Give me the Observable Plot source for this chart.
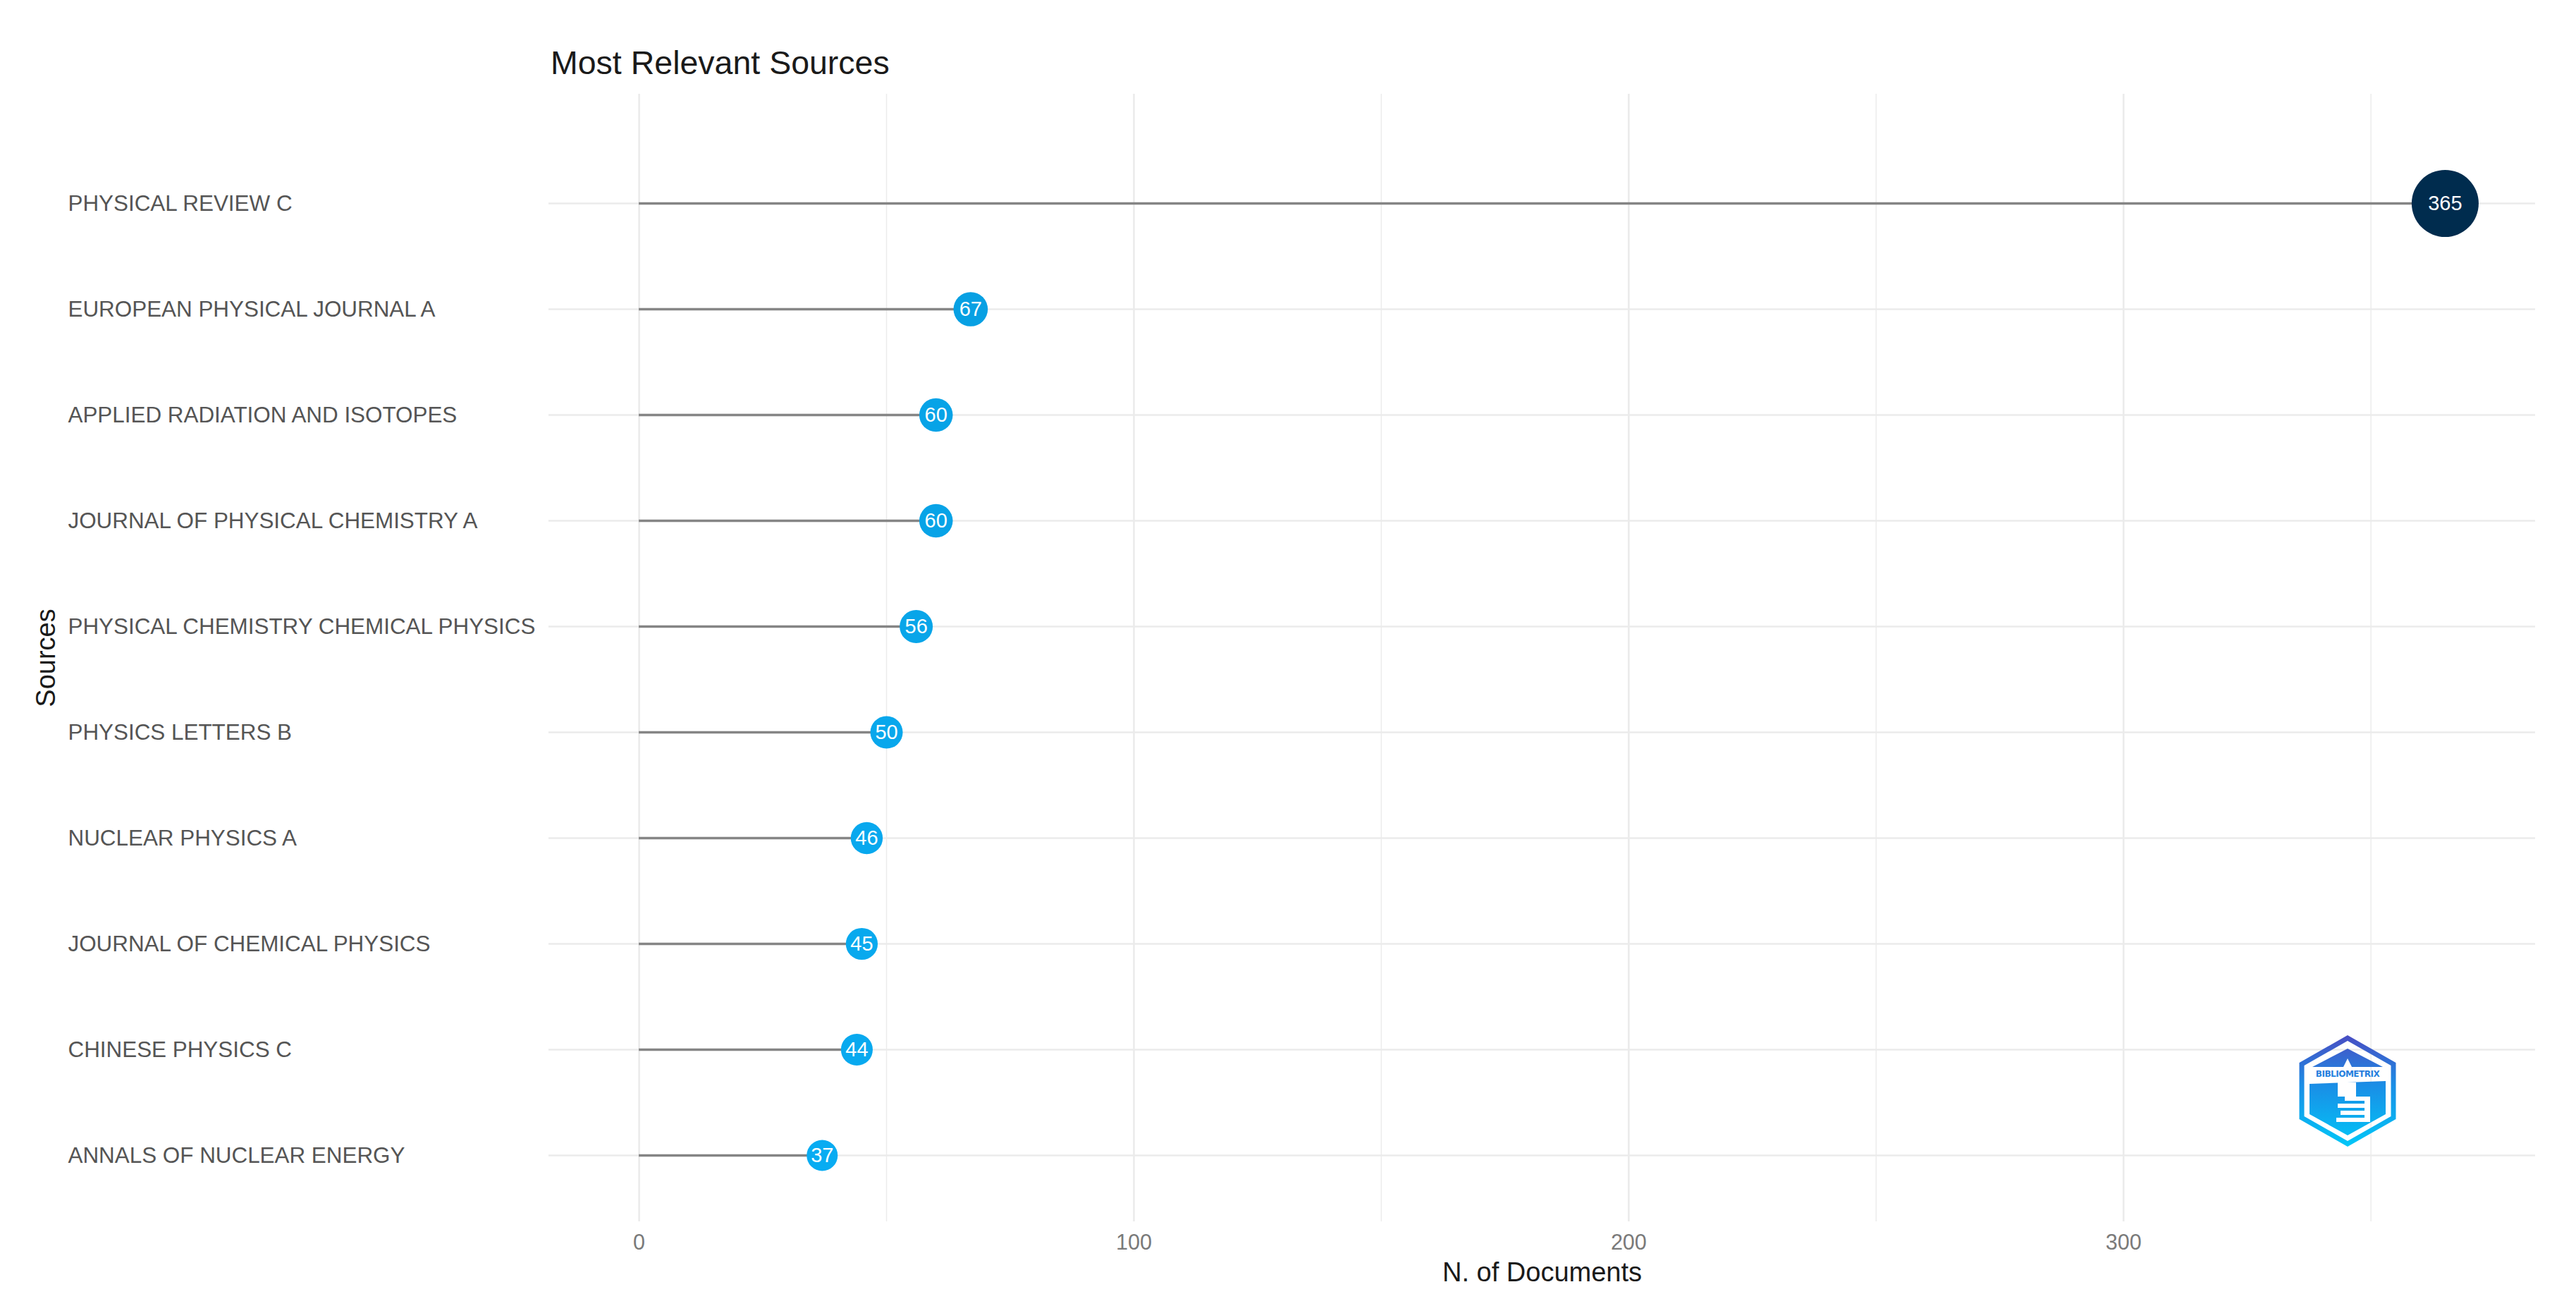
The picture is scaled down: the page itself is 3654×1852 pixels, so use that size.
<!DOCTYPE html>
<html>
<head>
<meta charset="utf-8">
<script src="https://cdn.jsdelivr.net/npm/d3@7"></script>
<script src="https://cdn.jsdelivr.net/npm/@observablehq/plot@0.6"></script>
<style>
  html, body { margin: 0; padding: 0; background: #ffffff; }
  body { width: 3654px; height: 1852px; position: relative; overflow: hidden;
         font-family: "Liberation Sans", Arial, Helvetica, sans-serif; }
  #title { position: relative; height: 133px; }
  #title span { position: absolute; left: 781px; top: 66px; font-size: 46.5px; line-height: 46px; color: #1a1a1a; white-space: nowrap; }
  #logo { position: absolute; left: 3260px; top: 1467px; width: 140px; height: 160px; }
</style>
</head>
<body>
<div id="title"><span>Most Relevant Sources</span></div>
<div id="chart"></div>
<svg id="logo" viewBox="0 0 140 160" xmlns="http://www.w3.org/2000/svg">
  <defs>
    <linearGradient id="lg" gradientUnits="userSpaceOnUse" x1="0" y1="0" x2="0" y2="160">
      <stop offset="0" stop-color="#4a4cc2"/>
      <stop offset="0.45" stop-color="#1a8ee6"/>
      <stop offset="1" stop-color="#00c8f8"/>
    </linearGradient>
  </defs>
  <polygon points="70,5 135,42 135,118 70,155 5,118 5,42" fill="none" stroke="url(#lg)" stroke-width="7"/>
  <polygon points="70,20 120,46 20,46" fill="url(#lg)"/>
  <text x="70" y="60" text-anchor="middle" font-size="12" font-weight="bold" font-family="DejaVu Sans, sans-serif" fill="url(#lg)" letter-spacing="-0.5">BIBLIOMETRIX</text>
  <polygon points="16,70 124,66 124,113 70,143 16,113" fill="url(#lg)"/>
  <path d="M64,46 L70,34 L76,46 Z" fill="#ffffff"/>
  <rect x="56" y="68" width="26" height="20" fill="#ffffff"/>
  <rect x="66" y="88" width="36" height="6" fill="#ffffff"/>
  <rect x="56" y="98" width="44" height="6" fill="#ffffff"/>
  <rect x="60" y="108" width="40" height="6" fill="#ffffff"/>
  <rect x="54" y="118" width="44" height="6" fill="#ffffff"/>
  <rect x="94" y="88" width="8" height="36" fill="#ffffff"/>
</svg>
<script>
// ---- data ----
const sources = [
  "PHYSICAL REVIEW C",
  "EUROPEAN PHYSICAL JOURNAL A",
  "APPLIED RADIATION AND ISOTOPES",
  "JOURNAL OF PHYSICAL CHEMISTRY A",
  "PHYSICAL CHEMISTRY CHEMICAL PHYSICS",
  "PHYSICS LETTERS B",
  "NUCLEAR PHYSICS A",
  "JOURNAL OF CHEMICAL PHYSICS",
  "CHINESE PHYSICS C",
  "ANNALS OF NUCLEAR ENERGY"
];
const documents = [365, 67, 60, 60, 56, 50, 46, 45, 44, 37];
const xMajorTicks = [0, 100, 200, 300];
const xMinorTicks = [50, 150, 250, 350];
const chartTitle = "Most Relevant Sources";
const xTitle = "N. of Documents";
const yTitle = "Sources";

const data = sources.map((s, i) => ({source: s, value: documents[i]}));
const vMin = d3.min(documents), vMax = d3.max(documents);
const pad = (vMax - 0) * 0.05;

const FONT = '"Liberation Sans", Arial, Helvetica, sans-serif';
const W = 3654, H = 1852 - 133;

const chart = Plot.plot({
  width: W,
  height: H,
  marginTop: 0,
  marginBottom: 120,
  marginLeft: 778,
  marginRight: 58,
  insetTop: 151,
  insetBottom: 91,
  style: {fontFamily: FONT, background: "#ffffff", overflow: "visible"},
  x: {domain: [0 - pad, vMax + pad], axis: null},
  y: {type: "point", domain: sources, padding: 0, axis: null},
  r: {type: "linear", domain: [vMin, vMax], range: [22, 47.5]},
  color: {type: "linear", domain: [vMin, vMax], range: ["#08acf2", "#002c4e"], interpolate: "rgb"},
  marks: [
    Plot.gridX(xMinorTicks, {stroke: "#ececec", strokeOpacity: 1, strokeWidth: 1.5}),
    Plot.gridX(xMajorTicks, {stroke: "#ebebeb", strokeOpacity: 1, strokeWidth: 2.6}),
    Plot.gridY(sources, {stroke: "#ebebeb", strokeOpacity: 1, strokeWidth: 2.6}),
    Plot.ruleY(data, {y: "source", x: "value", stroke: "#858585", strokeWidth: 3.6}),
    Plot.dot(data, {x: "value", y: "source", r: "value", fill: "value", stroke: null}),
    Plot.text(data, {x: "value", y: "source", text: d => String(d.value), fill: "#ffffff", fontSize: 29}),
    // y tick labels
    Plot.text(sources, {y: d => d, text: d => d, frameAnchor: "left", dx: -682, textAnchor: "start", fill: "#555555", fontSize: 31.4}),
    // x tick labels
    Plot.text(xMajorTicks, {x: d => d, text: d => String(d), frameAnchor: "bottom", dy: 30, lineAnchor: "middle", fill: "#7a7a7a", fontSize: 30.5}),
    // axis titles
    Plot.text([xTitle], {text: d => d, frameAnchor: "bottom", dy: 72, textAnchor: "middle", lineAnchor: "middle", fill: "#1a1a1a", fontSize: 38}),
    Plot.text([yTitle], {text: d => d, frameAnchor: "left", dx: -713, rotate: -90, textAnchor: "middle", lineAnchor: "middle", fill: "#1a1a1a", fontSize: 38})
  ]
});
document.getElementById("chart").appendChild(chart);
</script>
</body>
</html>
